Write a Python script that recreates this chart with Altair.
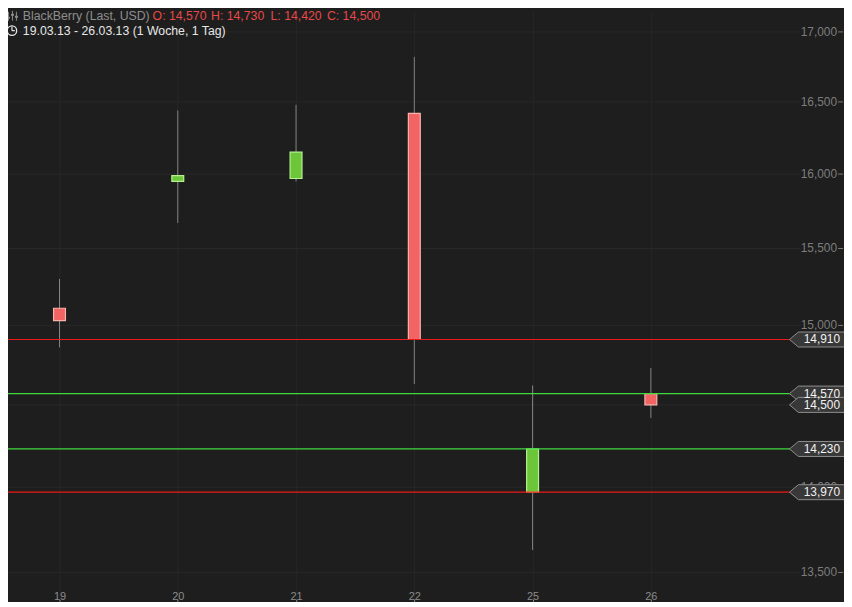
import altair as alt
import pandas as pd

# ---- data ----
days = ["19", "20", "21", "22", "25", "26"]
opens = [15.11, 15.95, 15.97, 16.42, 13.97, 14.57]
highs = [15.30, 16.44, 16.48, 16.82, 14.62, 14.73]
lows = [14.86, 15.67, 15.95, 14.63, 13.63, 14.42]
closes = [15.03, 15.99, 16.15, 14.91, 14.23, 14.50]

level_values = [14.91, 14.57, 14.23, 13.97]
level_kinds = ["down", "up", "up", "down"]
tag_values = [14.91, 14.57, 14.50, 14.23, 13.97]
y_ticks = [13.5, 14.0, 14.5, 15.0, 15.5, 16.0, 16.5, 17.0]

title_name = "BlackBerry (Last, USD)"
title_ohlc = ["O: 14,570", "H: 14,730", "L: 14,420", "C: 14,500"]
title_range = "19.03.13 - 26.03.13 (1 Woche, 1 Tag)"

FONT = "Liberation Sans"
BG = "#1e1e1e"
GRID = "#282828"
NB = "\u00a0"

candles = pd.DataFrame({
    "day": days, "open": opens, "high": highs, "low": lows, "close": closes,
})
candles["dir"] = ["up" if c >= o else "down" for o, c in zip(opens, closes)]

levels = pd.DataFrame({"level": level_values, "kind": level_kinds})
tags = pd.DataFrame({"value": tag_values})
tags["label"] = [f"{v:.3f}".replace(".", ",") for v in tag_values]
grid_df = pd.DataFrame({"tick": y_ticks})
grid_df["label"] = [f"{v:.3f}".replace(".", ",") for v in y_ticks]
one = pd.DataFrame({"a": [0]})

yscale = alt.Scale(type="log", domain=[13.3469, 17.1537], nice=False, zero=False)
xscale = alt.Scale(type="point", range=[52, 649], padding=0)

x_axis = alt.Axis(
    orient="bottom", grid=True, gridColor="#262626", domain=False,
    ticks=True, tickSize=5, tickColor="#8a8a8a", labelAngle=0,
    labelColor="#8c8c8c", labelFontSize=11, labelFont=FONT,
    labelPadding=-8, labelBaseline="middle", title=None,
)

grid = alt.Chart(grid_df).mark_rule(color=GRID, strokeWidth=1).encode(
    y=alt.Y("tick:Q", scale=yscale, axis=None),
    x=alt.value(0), x2=alt.value(800),
)
y_tick_marks = alt.Chart(grid_df).mark_rule(color="#7a7a7a", strokeWidth=1).encode(
    y=alt.Y("tick:Q", scale=yscale, axis=None),
    x=alt.value(838), x2=alt.value(843),
)
y_labels = alt.Chart(grid_df).mark_text(
    align="right", baseline="middle", color="#7d7d7d", fontSize=12, font=FONT,
).encode(
    y=alt.Y("tick:Q", scale=yscale, axis=None),
    x=alt.value(837),
    text="label:N",
)

wicks = alt.Chart(candles).mark_rule(color="#858585", strokeWidth=1).encode(
    x=alt.X("day:N", sort=days, scale=xscale, axis=x_axis),
    y=alt.Y("low:Q", scale=yscale, axis=None),
    y2="high:Q",
)

bodies = alt.Chart(candles).mark_bar(size=12, strokeWidth=1.2).encode(
    x=alt.X("day:N", sort=days, scale=xscale, axis=x_axis),
    y=alt.Y("open:Q", scale=yscale, axis=None),
    y2="close:Q",
    fill=alt.Fill("dir:N", scale=alt.Scale(domain=["up", "down"], range=["#6dc53a", "#f26363"]), legend=None),
    stroke=alt.Stroke("dir:N", scale=alt.Scale(domain=["up", "down"], range=["#b4f28e", "#f9b3ab"]), legend=None),
)

red_lines = alt.Chart(levels).transform_filter(
    alt.datum.kind == "down"
).mark_rule(strokeWidth=1.2, color="#ec1a1a").encode(
    y=alt.Y("level:Q", scale=yscale, axis=None),
    x=alt.value(0), x2=alt.value(790),
)
green_lines = alt.Chart(levels).transform_filter(
    alt.datum.kind == "up"
).mark_rule(strokeWidth=1.2, color="#3fd83f").encode(
    y=alt.Y("level:Q", scale=yscale, axis=None),
    x=alt.value(0), x2=alt.value(790),
)

tag_shape = "M -1 0 L -0.68 -0.27 L 1 -0.27 L 1 0.27 L -0.68 0.27 Z"
tag_marks = alt.Chart(tags).mark_point(
    shape=tag_shape, filled=True, fill="#383838", stroke="#8f8f8f",
    strokeWidth=1, size=3136, opacity=1,
).encode(
    y=alt.Y("value:Q", scale=yscale, axis=None),
    x=alt.value(817),
)
tag_text = alt.Chart(tags).mark_text(
    align="right", baseline="middle", color="#f2f2f2", fontSize=12, font=FONT,
).encode(
    y=alt.Y("value:Q", scale=yscale, axis=None),
    x=alt.value(840),
    text="label:N",
)

def head_text(txt, x, y, color):
    return alt.Chart(one).mark_text(
        align="left", baseline="alphabetic", color=color, fontSize=12.4, font=FONT,
    ).encode(x=alt.value(x), y=alt.value(y), text=alt.value(txt))

heads = [head_text(title_name, 15, 9, "#8e8e8e")]
for txt, xp in zip(title_ohlc, [146, 205, 265, 322]):
    heads.append(head_text(txt.replace(" ", NB), xp, 9, "#e84848"))
heads.append(head_text(title_range, 15, 24, "#e6e6e6"))

clock = alt.Chart(one).mark_point(
    shape="circle", filled=False, stroke="#e6e6e6", strokeWidth=1.3, size=90, opacity=1,
).encode(x=alt.value(4), y=alt.value(20))
clock_hand = alt.Chart(one).mark_rule(color="#e6e6e6", strokeWidth=1.2).encode(
    x=alt.value(4), y=alt.value(16), y2=alt.value(20),
)
clock_hand2 = alt.Chart(one).mark_rule(color="#e6e6e6", strokeWidth=1.2).encode(
    x=alt.value(4), x2=alt.value(7), y=alt.value(20),
)
# small candle-stick icon before the instrument name
icon_parts = []
for ix, (t, b) in zip([0.5, 4.5, 8.5], [(1, 10), (0, 10), (1, 10)]):
    icon_parts.append(alt.Chart(one).mark_rule(color="#8e8e8e", strokeWidth=1).encode(
        x=alt.value(ix), y=alt.value(t), y2=alt.value(b)))
for ix, yy in zip([0.5, 4.5, 8.5], [6, 3, 5]):
    icon_parts.append(alt.Chart(one).mark_rule(color="#8e8e8e", strokeWidth=3).encode(
        x=alt.value(ix), y=alt.value(yy), y2=alt.value(yy + 2)))

chart = alt.layer(
    grid, y_labels, y_tick_marks, wicks, bodies, red_lines, green_lines,
    tag_marks, tag_text, *heads, clock, clock_hand, clock_hand2, *icon_parts,
).properties(
    width=844, height=594,
    autosize=alt.AutoSizeParams(type="none"),
    padding=0,
    background=BG,
).configure_view(stroke=None)

chart.save("out.html", embed_options={"renderer": "svg", "actions": False})
